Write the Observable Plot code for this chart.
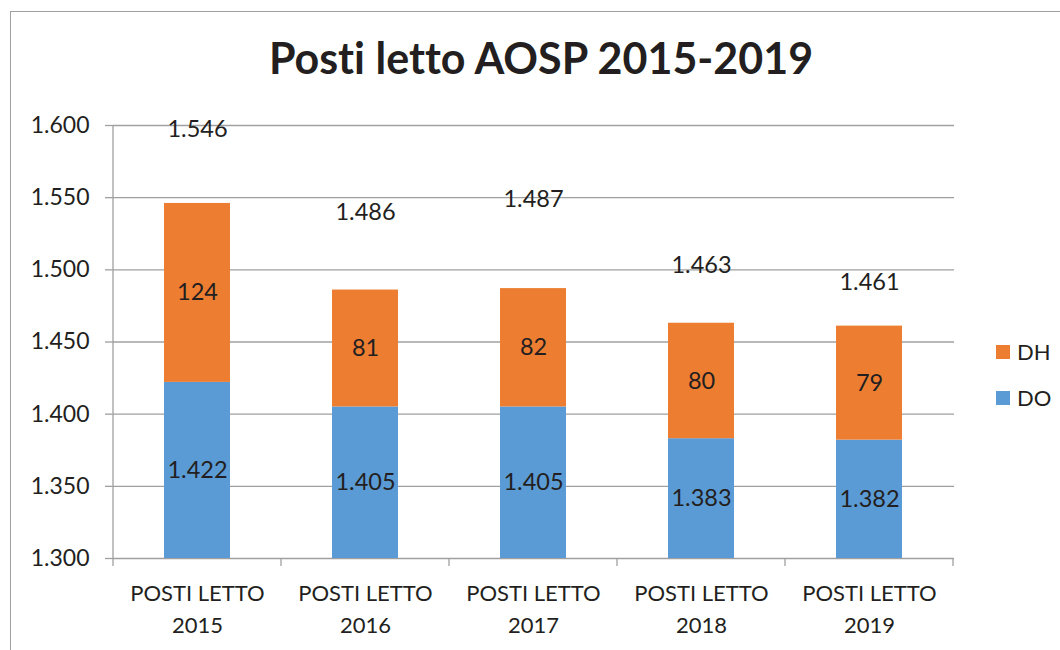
<!DOCTYPE html>
<html>
<head>
<meta charset="utf-8">
<script src="https://cdn.jsdelivr.net/npm/d3@7"></script>
<script src="https://cdn.jsdelivr.net/npm/@observablehq/plot@0.6"></script>
<style>
  html, body { margin: 0; padding: 0; background: #fff; }
  #wrap { position: relative; width: 1060px; height: 650px; overflow: hidden; font-family: Lato, "Open Sans", sans-serif; color: #231f20; font-variant-ligatures: none; }
  #wrap svg { font-variant-ligatures: none; }
  #border { position: absolute; left: 10px; top: 11px; right: -2px; bottom: -2px; border-left: 1px solid #a0a0a0; border-top: 1px solid #a0a0a0; }
  #title { position: absolute; top: 32px; left: 541px; transform: translateX(-50%); font-size: 43px; font-weight: 700; white-space: nowrap; }
  #chart { position: absolute; left: 0; top: 0; }
  .leg { position: absolute; left: 996px; font-size: 22px; display: flex; align-items: center; }
  .leg span.sw { display: inline-block; width: 14px; height: 14px; margin-right: 7px; }
</style>
</head>
<body>
<div id="wrap">
  <div id="border"></div>
  <div id="chart"></div>
  <div id="title">Posti letto AOSP 2015-2019</div>
  <div class="leg" style="top:338px"><span class="sw" style="background:#ED7D31"></span>DH</div>
  <div class="leg" style="top:384px"><span class="sw" style="background:#5B9BD5"></span>DO</div>
</div>
<script>
// ---- data ----
const years = ["2015", "2016", "2017", "2018", "2019"];
const seriesNames = ["DO", "DH"];
const doValues = [1422, 1405, 1405, 1383, 1382];
const dhValues = [124, 81, 82, 80, 79];
const totals = [1546, 1486, 1487, 1463, 1461];
const totalLabelAt = [1597, 1540, 1549, 1503, 1491];
const yTicks = [1300, 1350, 1400, 1450, 1500, 1550, 1600];
const xPrefix = "POSTI LETTO";
const colors = ["#5B9BD5", "#ED7D31"];

const it = d3.formatLocale({decimal: ",", thousands: ".", grouping: [3], currency: ["€", ""]});
const fmt = it.format(",d");

const rows = [];
years.forEach((y, i) => {
  rows.push({year: y, series: "DO", value: doValues[i]});
  rows.push({year: y, series: "DH", value: dhValues[i]});
});

const yMin = yTicks[0];
const yMax = yTicks[yTicks.length - 1];
const idx = years.map((_, i) => i);
const gridColor = "#a0a0a0";

// category boundary ticks below the baseline + vertical y axis line
function axisLines(index, scales, values, dims) {
  const x = scales.x, y = scales.y;
  const bw = typeof x.bandwidth === "function" ? x.bandwidth() : (x.bandwidth || 0);
  const step = x(years[1]) - x(years[0]);
  const y0 = y(yMin), y1 = y(yMax);
  const g = d3.create("svg:g");
  const xs = years.map(d => x(d) + bw / 2 - step / 2);
  xs.push(x(years[years.length - 1]) + bw / 2 + step / 2);
  for (const xv of xs) {
    g.append("line").attr("x1", xv).attr("x2", xv).attr("y1", y0).attr("y2", y0 + 8)
      .attr("stroke", gridColor).attr("stroke-width", 1.3);
  }
  g.append("line").attr("x1", xs[0]).attr("x2", xs[0]).attr("y1", y1).attr("y2", y0)
    .attr("stroke", gridColor).attr("stroke-width", 1.3);
  return g.node();
}

const chart = Plot.plot({
  width: 1060,
  height: 650,
  marginLeft: 113,
  marginRight: 106,
  marginTop: 125,
  marginBottom: 92,
  style: {fontFamily: "Lato, 'Open Sans', sans-serif", color: "#231f20", background: "transparent"},
  x: {domain: years, paddingInner: 0.607, paddingOuter: 0.3035, label: null},
  y: {domain: [yMin, yMax], label: null},
  color: {domain: seriesNames, range: colors},
  marks: [
    Plot.ruleY(yTicks, {stroke: gridColor, strokeWidth: 1.3}),
    Plot.axisY({ticks: yTicks, tickFormat: fmt, tickSize: 8, tickPadding: 16, fontSize: 23, stroke: gridColor, strokeWidth: 1.3, strokeOpacity: 1, fill: "#231f20", label: null}),
    Plot.barY(rows, {x: "year", y: "value", fill: "series", order: seriesNames, clip: true}),
    Plot.axisX({tickSize: 0, tickPadding: 20, fontSize: 22, lineHeight: 1.45, fill: "#231f20", tickFormat: d => xPrefix + "\n" + d, label: null}),
    axisLines,
    Plot.text(idx, {x: i => years[i], y: i => (yMin + doValues[i]) / 2, text: i => fmt(doValues[i]), fontSize: 23.5, fill: "#231f20"}),
    Plot.text(idx, {x: i => years[i], y: i => (doValues[i] + totals[i]) / 2, text: i => fmt(dhValues[i]), fontSize: 23.5, fill: "#231f20"}),
    Plot.text(idx, {x: i => years[i], y: i => totalLabelAt[i], text: i => fmt(totals[i]), fontSize: 23.5, fill: "#231f20"})
  ]
});
document.getElementById("chart").appendChild(chart);
</script>
</body>
</html>
